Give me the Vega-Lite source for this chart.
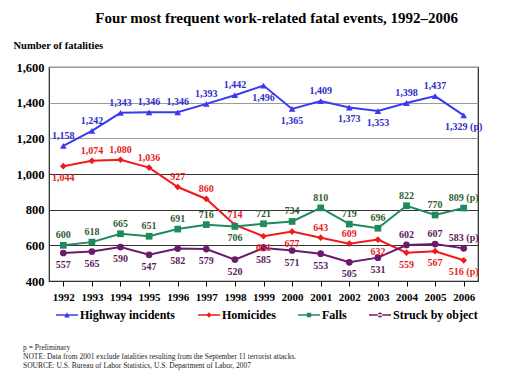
{
  "$schema": "https://vega.github.io/schema/vega-lite/v6.json",
  "background": "white",
  "padding": {"left": 12, "top": 11, "right": 5, "bottom": 5},
  "title": {
    "text": "Four most frequent work-related fatal events, 1992–2006",
    "font": "Liberation Serif", "fontSize": 15, "fontWeight": "bold", "color": "black",
    "anchor": "middle", "offset": 13, "dx": 29
  },
  "vconcat": [
    {
      "width": 429,
      "height": 214,
      "title": {
        "text": ["p = Preliminary", "NOTE:  Data from 2001 exclude fatalities resulting from the September 11 terrorist attacks.", "SOURCE:  U.S. Bureau of Labor Statistics, U.S. Department of Labor, 2007"],
        "orient": "bottom", "anchor": "start", "font": "Liberation Serif", "fontSize": 7.5,
        "fontWeight": "normal", "color": "#222", "lineHeight": 9, "offset": 23, "dx": 10
      },
      "data": {
        "values": [
          {"series": "Highway incidents", "year": 1992, "value": 1158},
          {"series": "Highway incidents", "year": 1993, "value": 1242},
          {"series": "Highway incidents", "year": 1994, "value": 1343},
          {"series": "Highway incidents", "year": 1995, "value": 1346},
          {"series": "Highway incidents", "year": 1996, "value": 1346},
          {"series": "Highway incidents", "year": 1997, "value": 1393},
          {"series": "Highway incidents", "year": 1998, "value": 1442},
          {"series": "Highway incidents", "year": 1999, "value": 1496},
          {"series": "Highway incidents", "year": 2000, "value": 1365},
          {"series": "Highway incidents", "year": 2001, "value": 1409},
          {"series": "Highway incidents", "year": 2002, "value": 1373},
          {"series": "Highway incidents", "year": 2003, "value": 1353},
          {"series": "Highway incidents", "year": 2004, "value": 1398},
          {"series": "Highway incidents", "year": 2005, "value": 1437},
          {"series": "Highway incidents", "year": 2006, "value": 1329},
          {"series": "Homicides", "year": 1992, "value": 1044},
          {"series": "Homicides", "year": 1993, "value": 1074},
          {"series": "Homicides", "year": 1994, "value": 1080},
          {"series": "Homicides", "year": 1995, "value": 1036},
          {"series": "Homicides", "year": 1996, "value": 927},
          {"series": "Homicides", "year": 1997, "value": 860},
          {"series": "Homicides", "year": 1998, "value": 714},
          {"series": "Homicides", "year": 1999, "value": 651},
          {"series": "Homicides", "year": 2000, "value": 677},
          {"series": "Homicides", "year": 2001, "value": 643},
          {"series": "Homicides", "year": 2002, "value": 609},
          {"series": "Homicides", "year": 2003, "value": 632},
          {"series": "Homicides", "year": 2004, "value": 559},
          {"series": "Homicides", "year": 2005, "value": 567},
          {"series": "Homicides", "year": 2006, "value": 516},
          {"series": "Falls", "year": 1992, "value": 600},
          {"series": "Falls", "year": 1993, "value": 618},
          {"series": "Falls", "year": 1994, "value": 665},
          {"series": "Falls", "year": 1995, "value": 651},
          {"series": "Falls", "year": 1996, "value": 691},
          {"series": "Falls", "year": 1997, "value": 716},
          {"series": "Falls", "year": 1998, "value": 706},
          {"series": "Falls", "year": 1999, "value": 721},
          {"series": "Falls", "year": 2000, "value": 734},
          {"series": "Falls", "year": 2001, "value": 810},
          {"series": "Falls", "year": 2002, "value": 719},
          {"series": "Falls", "year": 2003, "value": 696},
          {"series": "Falls", "year": 2004, "value": 822},
          {"series": "Falls", "year": 2005, "value": 770},
          {"series": "Falls", "year": 2006, "value": 809},
          {"series": "Struck by object", "year": 1992, "value": 557},
          {"series": "Struck by object", "year": 1993, "value": 565},
          {"series": "Struck by object", "year": 1994, "value": 590},
          {"series": "Struck by object", "year": 1995, "value": 547},
          {"series": "Struck by object", "year": 1996, "value": 582},
          {"series": "Struck by object", "year": 1997, "value": 579},
          {"series": "Struck by object", "year": 1998, "value": 520},
          {"series": "Struck by object", "year": 1999, "value": 585},
          {"series": "Struck by object", "year": 2000, "value": 571},
          {"series": "Struck by object", "year": 2001, "value": 553},
          {"series": "Struck by object", "year": 2002, "value": 505},
          {"series": "Struck by object", "year": 2003, "value": 531},
          {"series": "Struck by object", "year": 2004, "value": 602},
          {"series": "Struck by object", "year": 2005, "value": 607},
          {"series": "Struck by object", "year": 2006, "value": 583}
        ]
      },
      "transform": [
        {"calculate": "format(datum.value, ',') + (datum.year == 2006 ? ' (p)' : '')", "as": "label"},
        {"calculate": "indexof(['Highway incidents|1992','Highway incidents|1993','Highway incidents|1994','Highway incidents|1995','Highway incidents|1996','Highway incidents|1997','Highway incidents|1998','Highway incidents|2001','Highway incidents|2004','Highway incidents|2005','Homicides|1993','Homicides|1994','Homicides|1995','Homicides|1996','Homicides|1997','Homicides|1998','Homicides|2001','Homicides|2002','Struck by object|2004','Struck by object|2005','Struck by object|2006'], datum.series + '|' + datum.year) >= 0 || (datum.series == 'Falls' && datum.year != 1998)", "as": "above"}
      ],
      "encoding": {
        "x": {
          "field": "year", "type": "ordinal", "title": null,
          "scale": {"paddingInner": 0, "paddingOuter": 0},
          "axis": {
            "labelAngle": 0, "bandPosition": 0, "grid": false,
            "domain": false, "tickColor": "black", "tickSize": 5, "labelPadding": 5,
            "labelFont": "Liberation Serif", "labelFontSize": 11, "labelFontWeight": "bold", "labelColor": "black"
          }
        },
        "y": {
          "field": "value", "type": "quantitative",
          "scale": {"domain": [400, 1600], "nice": false},
          "axis": {
            "values": [400, 600, 800, 1000, 1200, 1400, 1600], "labelExpr": "format(datum.value, ',')",
            "title": "Number of fatalities", "titleAngle": 0, "titleAlign": "left", "titleBaseline": "middle",
            "titleX": -36, "titleY": -22, "titleFont": "Liberation Serif", "titleFontSize": 10.5, "titleFontWeight": "bold", "titleColor": "black",
            "labelFont": "Liberation Serif", "labelFontSize": 12.5, "labelFontWeight": "bold", "labelColor": "black",
            "ticks": false, "domain": false, "labelPadding": 5,
            "grid": true,
            "gridColor": {"condition": {"test": "datum.value >= 1200", "value": "#9a9a9a"}, "value": "#333333"},
            "gridWidth": 1.2
          }
        }
      },
      "layer": [
        {
          "mark": {"type": "line", "strokeWidth": 2},
          "encoding": {
            "color": {
              "field": "series", "type": "nominal", "legend": null,
              "scale": {"domain": ["Highway incidents", "Homicides", "Falls", "Struck by object"], "range": ["#3a3af0", "#f01a1a", "#1f8a5c", "#6c1a6c"]}
            }
          }
        },
        {
          "mark": {"type": "point", "filled": true, "opacity": 1, "size": 45},
          "encoding": {
            "color": {
              "field": "series", "type": "nominal",
              "scale": {"domain": ["Highway incidents", "Homicides", "Falls", "Struck by object"], "range": ["#3a3af0", "#f01a1a", "#1f8a5c", "#6c1a6c"]},
              "legend": {
                "title": null, "orient": "none", "legendX": 7, "legendY": 237, "direction": "horizontal", "columns": 4,
                "labelFont": "Liberation Serif", "labelFontSize": 12, "labelFontWeight": "bold", "labelColor": "black",
                "symbolSize": 480, "symbolOpacity": 1, "columnPadding": 22, "labelOffset": 2,
                "encode": {
                  "symbols": {
                    "update": {
                      "shape": {"signal": "datum.value === 'Highway incidents' ? 'M-1,-0.07H1V0.07H-1Z M-0.26,0.22L0,-0.26L0.26,0.22Z' : datum.value === 'Homicides' ? 'M-1,-0.07H1V0.07H-1Z M0,-0.25L0.25,0L0,0.25L-0.25,0Z' : datum.value === 'Falls' ? 'M-1,-0.07H1V0.07H-1Z M-0.2,-0.2H0.2V0.2H-0.2Z' : 'M-1,-0.07H1V0.07H-1Z M-0.22,0A0.22,0.22 0 1,0 0.22,0A0.22,0.22 0 1,0 -0.22,0Z'"},
                      "strokeWidth": {"value": 0}
                    }
                  }
                }
              }
            },
            "shape": {
              "field": "series", "type": "nominal", "legend": null,
              "scale": {"domain": ["Highway incidents", "Homicides", "Falls", "Struck by object"], "range": ["triangle-up", "diamond", "square", "circle"]}
            }
          }
        },
        {
          "transform": [{"filter": "datum.above"}],
          "mark": {"type": "text", "dy": -10, "font": "Liberation Serif", "fontSize": 10, "fontWeight": "bold"},
          "encoding": {
            "text": {"field": "label"},
            "color": {
              "field": "series", "type": "nominal", "legend": null,
              "scale": {"domain": ["Highway incidents", "Homicides", "Falls", "Struck by object"], "range": ["#2e2ec8", "#e81c1c", "#2f5f2f", "#5a1a5a"]}
            }
          }
        },
        {
          "transform": [{"filter": "!datum.above"}],
          "mark": {"type": "text", "dy": 12, "font": "Liberation Serif", "fontSize": 10, "fontWeight": "bold"},
          "encoding": {
            "text": {"field": "label"},
            "color": {
              "field": "series", "type": "nominal", "legend": null,
              "scale": {"domain": ["Highway incidents", "Homicides", "Falls", "Struck by object"], "range": ["#2e2ec8", "#e81c1c", "#2f5f2f", "#5a1a5a"]}
            }
          }
        }
      ],
      "resolve": {"scale": {"color": "independent"}}
    }
  ],
  "config": {
    "view": {"stroke": "#222", "strokeWidth": 1.2},
    "font": "Liberation Serif"
  }
}
